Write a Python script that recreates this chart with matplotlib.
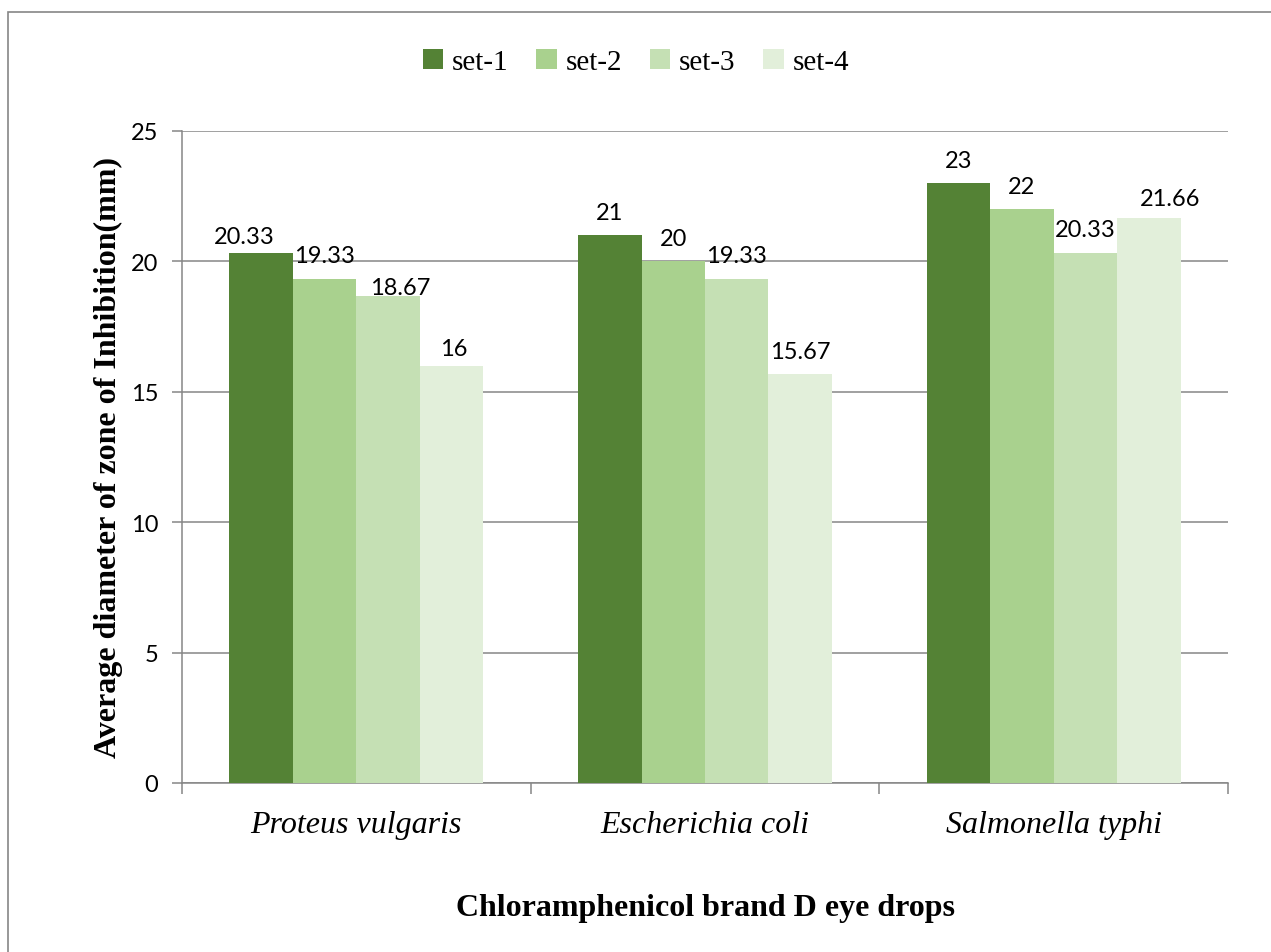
import matplotlib
matplotlib.use("Agg")
import matplotlib.pyplot as plt
from matplotlib.patches import Rectangle, Patch
import numpy as np

# Data
organisms = ["Proteus vulgaris", "Escherichia coli", "Salmonella typhi"]
series_names = ["set-1", "set-2", "set-3", "set-4"]
set1 = [20.33, 21, 23]
set2 = [19.33, 20, 22]
set3 = [18.67, 19.33, 20.33]
set4 = [16, 15.67, 21.66]
y_ticks = [0, 5, 10, 15, 20, 25]

values = [set1, set2, set3, set4]
colors = ["#548235", "#A9D18E", "#C5E0B4", "#E2EFDA"]

# label nudges in pixels (series index, group index) -> (dx, dy)
nudges = {(0, 0): (-17, -7), (2, 0): (12, -14), (3, 0): (2, -6), (3, 2): (21, -3)}

W, H = 1271, 953
fig = plt.figure(figsize=(W / 100, H / 100), dpi=100)

# outer chart frame
fig.patches.append(Rectangle((8 / W, -0.1), 1.2, 1 - 13 / H + 0.1,
                             transform=fig.transFigure, fill=False,
                             edgecolor="#868686", linewidth=1.2))

ax = fig.add_axes([182 / W, 1 - 784 / H, (1228 - 182) / W, (784 - 132) / H])

num_font = "Lato"
serif = "Liberation Serif"

x = np.arange(len(organisms))
bw = 0.182
for i, (vals, c) in enumerate(zip(values, colors)):
    pos = x + (i - 1.5) * bw
    ax.bar(pos, vals, width=bw, color=c, zorder=3, label=series_names[i])
    for j, (p, v) in enumerate(zip(pos, vals)):
        dx, dy = nudges.get((i, j), (0, 0))
        ax.annotate(f"{v:g}", (p, v), xytext=(dx * 0.72, (23 + dy) * 0.72),
                    textcoords="offset points", ha="center", va="center",
                    fontsize=17, family=num_font, color="black", zorder=4)

ax.set_xlim(-0.5, len(organisms) - 0.5)
ax.set_ylim(0, 25)
ax.set_yticks(y_ticks)
ax.yaxis.grid(True, color="#868686", linewidth=1.1, zorder=0)
ax.set_axisbelow(True)

for s in ["top", "right"]:
    ax.spines[s].set_visible(False)
for s in ["left", "bottom"]:
    ax.spines[s].set_color("#868686")
    ax.spines[s].set_linewidth(1.1)

ax.tick_params(axis="y", length=7, color="#868686", width=1.1, pad=10,
               labelsize=17)
for lab in ax.get_yticklabels():
    lab.set_family(num_font)

# category boundary ticks
ax.set_xticks(np.arange(-0.5, len(organisms)), minor=False)
ax.set_xticklabels([])
ax.tick_params(axis="x", length=8, color="#868686", width=1.1, direction="out")
for xi, name in zip(x, organisms):
    ax.text(xi, -0.064, name, transform=ax.get_xaxis_transform(),
            ha="center", va="center", fontsize=23, family=serif,
            style="italic")

fig.text(706 / W, 1 - 909 / H, "Chloramphenicol brand D eye drops",
         ha="center", va="center", fontsize=23, family=serif,
         fontweight="bold")
fig.text(108 / W, 1 - 458 / H, "Average diameter of zone of Inhibition(mm)",
         ha="center", va="center", rotation=90, fontsize=23, family=serif,
         fontweight="bold")

handles = [Patch(facecolor=c, edgecolor="none") for c in colors]
fig.legend(handles, series_names, loc="center", bbox_to_anchor=(636 / W, 1 - 63 / H),
           ncol=4, frameon=False, prop={"family": serif, "size": 21},
           handlelength=0.7, handleheight=0.7, handletextpad=0.3,
           columnspacing=0.95)

fig.savefig("out.png", dpi=100, facecolor="white")
